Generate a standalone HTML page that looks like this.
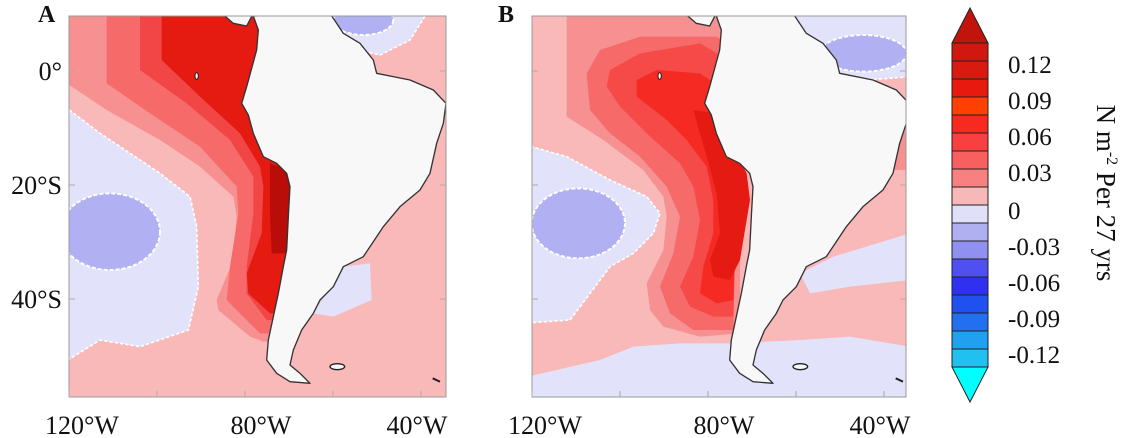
<!DOCTYPE html>
<html><head><meta charset="utf-8">
<style>
body{margin:0;background:#fff;width:1125px;height:438px;overflow:hidden}
svg{display:block}
text{font-family:"Liberation Serif","DejaVu Serif","Times New Roman",serif;fill:#111}
</style></head>
<body>
<svg id="s" width="1125" height="438" viewBox="0 0 1125 438" xmlns="http://www.w3.org/2000/svg" font-family="Liberation Serif, DejaVu Serif, serif">
<defs>
<clipPath id="cA"><rect x="69" y="16" width="377" height="381"/></clipPath>
<clipPath id="cB"><rect x="532" y="16" width="374" height="381"/></clipPath>
</defs>
<g id="panelA" clip-path="url(#cA)"></g>
<g id="panelB" clip-path="url(#cB)"></g>
<rect x="69" y="16" width="377" height="381" fill="none" stroke="#999"/>
<rect x="532" y="16" width="374" height="381" fill="none" stroke="#999"/>
<text x="38" y="22" font-size="24" font-weight="bold">A</text>
<text x="498" y="22" font-size="24" font-weight="bold">B</text>
<g id="axes"></g>
<g id="cbar"></g>
<text transform="translate(1097,193) rotate(90)" font-size="27" text-anchor="middle">N m<tspan font-size="16" dy="-10">-2</tspan><tspan dy="10">  Per 27 yrs</tspan></text>
</svg>
<script>
const cbLevels = ["0.12","0.09","0.06","0.03","0","-0.03","-0.06","-0.09","-0.12"];
const cbColors = ["#d01810","#d81a10","#e81a10","#ff4000","#f82a20","#f84040","#f86060","#f88080","#f8b8b8","#e0e0f8","#b0b0f0","#9090f0","#5050f0","#3030f0","#2050f0","#2070f0","#20a0f0","#20c0f0"];
const lonTicks = ["120°W","80°W","40°W"];
const latTicks = ["0°","20°S","40°S"];

const NS="http://www.w3.org/2000/svg";
function el(tag,attrs,parent){const e=document.createElementNS(NS,tag);for(const k in attrs)e.setAttribute(k,attrs[k]);parent.appendChild(e);return e;}
function pts(a){let s=[];for(let i=0;i<a.length;i+=2)s.push(a[i]+","+a[i+1]);return s.join(" ");}

const land=[760,48,775,90,770,150,740,260,725,310,745,345,760,400,790,470,830,490,860,520,870,560,865,650,860,750,850,800,835,880,820,950,805,1020,800,1080,830,1120,870,1145,930,1150,900,1120,870,1095,880,1050,905,990,940,940,960,900,1000,860,1030,800,1090,770,1150,680,1200,620,1260,570,1290,520,1310,430,1330,370,1338,310,1300,270,1230,240,1130,220,1120,180,1080,130,1030,100,990,40];

const LP="#f9b9b9",LAV="#e2e2fa",BLU="#b0b0f2";
const A={shapes:[
 ["lav",LAV,[208,330,300,400,480,520,570,590,590,680,595,860,565,990,420,1040,300,1020,180,1095]],
 ["lav-tr",LAV,[1000,40,1010,100,1080,150,1140,165,1230,120,1280,40]],
 ["lav-e",LAV,[1030,800,1110,790,1115,900,1000,950,940,940]],
 ["l1","#f79090",[200,40,200,250,320,330,480,420,600,500,700,590,710,650,700,780,650,900,655,930,750,1010,790,1025,870,1025,870,40]],
 ["l2","#f66a6a",[320,40,320,250,450,340,600,440,710,560,715,640,690,800,680,900,780,1000,870,1000,870,40]],
 ["l3","#f24646",[420,40,420,210,560,310,690,420,760,530,760,640,740,800,740,880,800,960,870,960,870,40]],
 ["l4","#e51a10",[485,40,485,180,600,290,720,400,780,500,790,560,785,700,740,820,745,880,810,940,870,940,870,40]],
 ["l5","#b80d08",[810,490,870,510,880,700,870,760,815,760,810,640]]
],ell:[["blue",BLU,330,695,150,115],["blue-tr",BLU,1090,60,90,45]]};
const B={shapes:[
 ["lav",LAV,[60,430,200,470,330,540,440,590,480,640,460,700,400,760,330,800,270,880,210,960,60,970]],
 ["lav-bottom",LAV,[60,1135,300,1080,400,1040,540,1030,700,1030,900,1020,1050,1010,1230,1040,1230,1220,60,1220]],
 ["lav-e",LAV,[900,820,1000,770,1230,700,1230,840,1050,860,930,880]],
 ["lav-tr",LAV,[880,40,1230,40,1230,230,1100,240,1020,230,950,150]],
 ["pink-e","#f79090",[1170,400,1230,390,1230,510,1170,510]],
 ["l1","#f79090",[200,40,200,350,310,420,430,510,490,590,500,650,490,750,440,850,450,930,490,980,600,1010,720,1000,720,40]],
 ["l2","#f66a6a",[650,110,420,110,300,150,260,220,270,330,330,400,420,470,500,560,540,650,520,760,480,860,510,940,580,990,700,990,720,150]],
 ["l3","#f54a48",[600,130,420,160,330,210,320,260,360,320,440,400,540,490,580,560,600,660,580,770,540,860,570,920,640,950,700,950,720,200]],
 ["l4","#f52a22",[470,210,410,240,410,290,500,360,560,420,620,500,640,600,640,700,610,800,600,880,650,910,700,900,720,300,600,220]],
 ["l5","#e51a12",[580,330,650,340,740,520,750,600,720,780,690,840,640,830,630,780,660,700,650,580,620,470,600,400]]
],ell:[["blue",BLU,235,670,140,105],["blue-tr",BLU,1090,160,130,55]]};

function drawPanel(gid,data,rect,tx,landTx,name){
 const g=document.getElementById(gid);
 const bg=el("rect",{x:rect[0],y:rect[1],width:rect[2],height:rect[3],fill:LP},g);
 
 
 const c=el("g",{transform:"translate("+tx+",0) scale(0.33333)"},g);
 data.shapes.forEach(s=>{
  const p=el("polygon",{points:pts(s[2]),fill:s[1]},c);
  
  
  if(s[0]==="lav"||s[0]==="lav-tr"){p.setAttribute("stroke","#fff");p.setAttribute("stroke-width","5");p.setAttribute("stroke-dasharray","10 6");}
 });
 data.ell.forEach(e=>{
  const p=el("ellipse",{cx:e[2],cy:e[3],rx:e[4],ry:e[5],fill:e[1],stroke:"#fff","stroke-width":6,"stroke-dasharray":"12 6"},c);
  
  
 });
 const lg=el("g",{transform:"translate("+landTx+",0) scale(0.33333)"},g);
 const l=el("polygon",{points:pts(land),fill:"#f8f8f8",stroke:"#333","stroke-width":4,"stroke-linejoin":"round"},lg);
 
 
 const ca=el("polygon",{points:pts([665,40,700,70,740,78,760,40]),fill:"#f8f8f8",stroke:"#333","stroke-width":4},lg);
 
 
 const fk=el("ellipse",{cx:1012,cy:1100,rx:22,ry:9,fill:"#f8f8f8",stroke:"#222","stroke-width":4},lg);
 
 
 const gi=el("ellipse",{cx:590,cy:228,rx:5,ry:10,fill:"#f8f8f8",stroke:"#222","stroke-width":3},lg);
 
 
 const sg=el("line",{x1:1298,y1:1135,x2:1320,y2:1145,stroke:"#222","stroke-width":6},lg);
 
 
}
drawPanel("panelA",A,[69,16,377,381],0,0,"panel-a");
drawPanel("panelB",B,[532,16,374,381],500,463,"panel-b");

const ax=document.getElementById("axes");
function lonToX(x0,lon){return x0+(lon+120)*4.4;}
function latToY(lat){return 71-lat*5.7;}
[[69,0],[532,463]].forEach((p,pi)=>{
 [-120,-100,-80,-60,-40].forEach(lon=>{
  const x=lonToX(p[0],lon);
  const t=el("line",{x1:x,y1:397,x2:x,y2:391,stroke:"#aaa"},ax);
  
  
 });
 [0,-20,-40].forEach(lat=>{
  const y=latToY(lat);
  const t1=el("line",{x1:p[0],y1:y,x2:p[0]+6,y2:y,stroke:"#aaa"},ax);
  
  
  const t2=el("line",{x1:p[0]+(pi?374:377),y1:y,x2:p[0]+(pi?368:371),y2:y,stroke:"#aaa"},ax);
  
  
 });
 lonTicks.forEach((lab,i)=>{
  const x=lonToX(p[0],-120+i*40)+(i===0?13:(i===1?16:-4));
  const t=el("text",{x:x,y:434,"font-size":26,"text-anchor":"middle"},ax);
  t.textContent=lab;
  
  
 });
});
latTicks.forEach((lab,i)=>{
 const t=el("text",{x:62,y:latToY(-20*i)+9,"font-size":26,"text-anchor":"end"},ax);
 t.textContent=lab;
 
 
});

const cb=document.getElementById("cbar");
const cbX=952,cbW=36,cbTop=43,seg=18;
const up=el("polygon",{points:pts([cbX,cbTop,cbX+cbW,cbTop,cbX+cbW/2,8]),fill:"#c0140c",stroke:"#222"},cb);


cbColors.forEach((c,i)=>{
 const r=el("rect",{x:cbX,y:cbTop+i*seg,width:cbW,height:seg,fill:c,stroke:"#222","stroke-width":1},cb);
 
 
});
const bot=cbTop+cbColors.length*seg;
const dn=el("polygon",{points:pts([cbX,bot,cbX+cbW,bot,cbX+cbW/2,402]),fill:"#00ffff",stroke:"#222"},cb);


cbLevels.forEach((lab,i)=>{
 const t=el("text",{x:1008,y:cbTop+seg*(2*i+1)+12+(i>=4?2:0),"font-size":25},cb);
 t.textContent=lab;
 
 
});
</script>
</body></html>
